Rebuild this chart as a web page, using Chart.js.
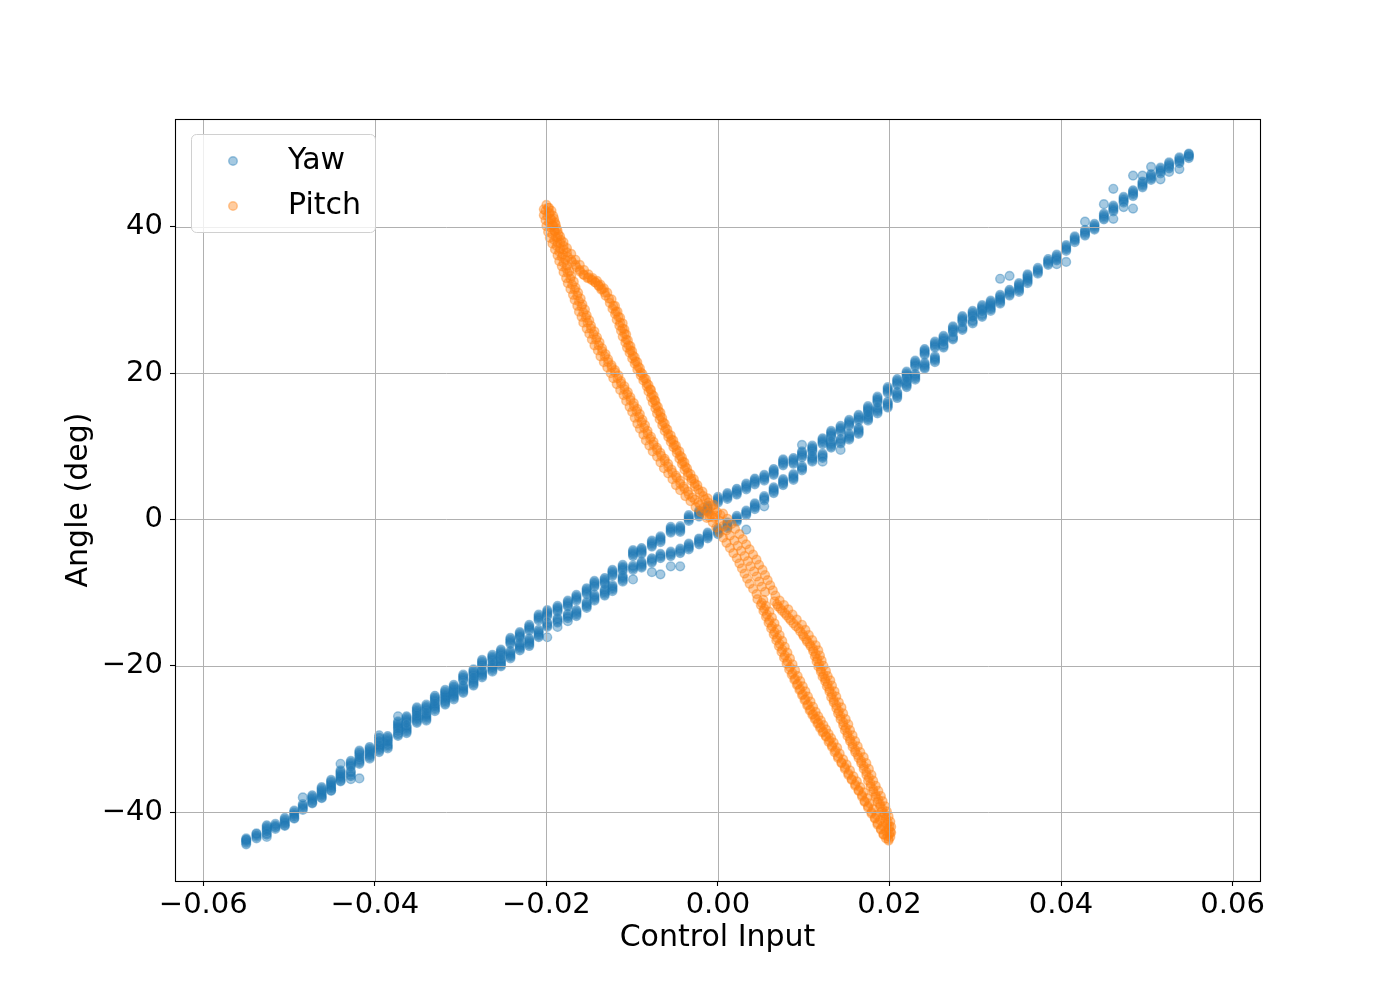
<!DOCTYPE html>
<html>
<head>
<meta charset="utf-8">
<title>Angle vs Control Input</title>
<script src="https://cdn.jsdelivr.net/npm/chart.js@4.4.1/dist/chart.umd.min.js"></script>
<style>
  html, body { margin: 0; padding: 0; background: #fff; }
  #wrap { width: 1400px; height: 990px; }
</style>
</head>
<body>
<div id="wrap"><canvas id="myChart" width="1400" height="990"></canvas></div>
<script>
const xTicks = [-0.06, -0.04, -0.02, 0.00, 0.02, 0.04, 0.06];
const yTicks = [-40, -20, 0, 20, 40];
const seriesNames = ['Yaw', 'Pitch'];

// yaw: control input steps, and the angles sampled at each step
const yawInput = [-0.0550, -0.0538, -0.0526, -0.0516, -0.0505, -0.0494, -0.0484, -0.0473, -0.0462, -0.0451,
  -0.0440, -0.0428, -0.0418, -0.0406, -0.0395, -0.0385, -0.0373, -0.0363, -0.0351, -0.0340,
  -0.0330, -0.0318, -0.0308, -0.0297, -0.0285, -0.0275, -0.0263, -0.0253, -0.0242, -0.0231,
  -0.0220, -0.0209, -0.0199, -0.0187, -0.0175, -0.0165, -0.0153, -0.0144, -0.0132, -0.0123,
  -0.0111, -0.0099, -0.0089, -0.0077, -0.0067, -0.0055, -0.0044, -0.0034, -0.0022, -0.0012,
  0.0000, 0.0011, 0.0022, 0.0033, 0.0043, 0.0054, 0.0065, 0.0076, 0.0088, 0.0098,
  0.0110, 0.0122, 0.0132, 0.0143, 0.0153, 0.0164, 0.0175, 0.0186, 0.0198, 0.0209,
  0.0220, 0.0230, 0.0241, 0.0253, 0.0263, 0.0274, 0.0285, 0.0297, 0.0308, 0.0318,
  0.0329, 0.0340, 0.0351, 0.0361, 0.0373, 0.0385, 0.0395, 0.0406, 0.0416, 0.0428,
  0.0439, 0.0450, 0.0461, 0.0473, 0.0484, 0.0495, 0.0505, 0.0516, 0.0526, 0.0538, 0.0549];

// first sweep
const yawAngle = [
  [-43.6, -44.0, -44.4, -43.8], [-42.9, -43.2, -43.6], [-41.8, -42.2, -42.6, -42.9, -43.4],
  [-41.6, -42.0, -42.3], [-40.8, -41.2, -41.6, -41.9], [-39.8, -40.2, -40.6, -40.9],
  [-38.0, -38.9, -39.3, -39.7], [-37.7, -38.1, -38.5, -38.8], [-36.6, -37.0, -37.4, -37.8, -38.1],
  [-35.6, -36.0, -36.4, -36.8, -37.1], [-33.4, -34.3, -34.7, -35.1, -35.5, -35.8], [-33.0, -33.4, -33.8, -34.4, -34.9, -35.5],
  [-31.6, -32.0, -32.5, -33.0, -33.4, -35.4], [-31.1, -31.5, -31.9, -32.3, -32.7], [-29.5, -30.0, -30.5, -31.0, -31.4, -31.8],
  [-29.6, -30.0, -30.4, -30.9, -31.3], [-26.9, -27.8, -28.2, -28.6, -29.2, -29.6], [-26.9, -27.3, -27.7, -28.4, -28.8, -29.2],
  [-25.7, -26.1, -26.5, -27.0, -27.4, -27.8], [-25.3, -25.7, -26.1, -26.7, -27.1, -27.5], [-24.1, -24.5, -24.9, -25.4, -25.8, -26.2],
  [-23.3, -23.7, -24.1, -24.5, -24.9, -25.3], [-22.6, -23.0, -23.4, -23.8, -24.2, -24.6], [-21.2, -21.6, -22.0, -22.9, -23.3, -23.7],
  [-20.5, -20.9, -21.3, -21.9, -22.3, -22.7], [-19.2, -19.6, -20.0, -20.8, -21.2, -21.6], [-18.5, -18.9, -19.3, -20.0, -20.4, -20.8],
  [-17.8, -18.2, -18.6, -19.3, -19.7, -20.1], [-16.2, -16.6, -17.0, -18.2, -18.6, -19.0], [-15.4, -15.8, -16.2, -17.1, -17.5, -17.9],
  [-14.4, -14.8, -15.2, -16.5, -16.9, -17.3], [-13.0, -13.4, -13.8, -15.3, -15.7, -16.1], [-12.4, -12.8, -13.2, -14.1, -14.5, -16.1],
  [-11.8, -12.2, -12.6, -13.5, -13.9, -14.7], [-11.1, -11.5, -11.9, -12.9, -13.3, -13.9], [-10.3, -10.7, -11.1, -12.4, -12.8, -13.2],
  [-9.4, -9.8, -10.2, -11.3, -11.7, -12.1], [-8.4, -8.8, -9.2, -10.3, -10.7, -11.1], [-8.0, -8.4, -8.8, -9.6, -10.0, -10.4],
  [-6.9, -7.3, -7.7, -9.0, -9.4, -9.8], [-6.2, -6.6, -7.0, -7.7, -8.1, -8.5], [-4.2, -4.6, -5.0, -6.3, -6.7, -8.2],
  [-3.9, -4.3, -4.7, -5.8, -6.2, -6.6], [-2.9, -3.3, -3.7, -5.3, -5.7, -7.2], [-2.3, -2.7, -3.1, -4.7, -5.1, -7.5],
  [-1.0, -1.4, -1.8, -4.4, -4.8, -6.4], [-0.9, -1.3, -1.7, -4.0, -4.4, -6.4], [0.6, 0.2, -0.2, -3.3, -3.7, -4.1],
  [1.2, 0.8, 0.4, -2.6, -3.0, -3.4], [1.9, 1.5, 1.1, -1.8, -2.2, -2.6],
  [3.1, 2.7, 2.3, -1.2, -1.6, -2.0],
  [3.6, 3.2, 2.8, -0.4, -0.8, -1.2], [4.2, 3.8, 3.4, 0.5, 0.1, -0.3], [4.9, 4.5, 4.1, 1.2, 0.8, -1.4],
  [5.6, 5.2, 4.8, 2.2, 1.8, 1.4], [6.1, 5.7, 5.3, 3.2, 2.8, 1.8], [6.9, 6.5, 6.1, 4.4, 4.0, 3.6],
  [8.2, 7.8, 7.4, 5.5, 5.1, 4.7], [8.4, 8.0, 7.6, 6.2, 5.8, 5.4], [9.3, 8.9, 8.5, 7.3, 6.9, 10.2],
  [10.1, 9.7, 9.3, 8.7, 8.3, 7.9], [11.1, 10.7, 10.3, 9.0, 8.6, 7.9], [12.1, 11.7, 11.3, 10.6, 10.2, 9.8],
  [12.8, 12.4, 12.0, 11.0, 10.6, 9.5], [13.6, 13.2, 12.8, 11.7, 11.3, 10.9], [14.3, 13.9, 13.5, 12.5, 12.1, 11.7],
  [15.5, 15.1, 14.7, 14.3, 13.9, 13.5], [16.8, 16.4, 16.0, 15.3, 14.9, 14.5], [18.1, 17.7, 17.3, 16.1, 15.7, 15.3],
  [19.2, 18.8, 18.4, 17.4, 17.0, 16.6], [20.2, 19.8, 19.4, 18.9, 18.5, 18.1], [21.7, 21.3, 20.9, 19.9, 19.5, 19.1],
  [23.3, 22.9, 22.5, 21.4, 21.0, 20.6], [24.3, 23.9, 23.5, 22.3, 21.9, 21.5], [25.1, 24.7, 24.3, 23.9, 23.5],
  [26.4, 26.0, 25.6, 25.0, 24.6], [27.8, 27.4, 27.0, 26.3, 25.9], [28.5, 28.1, 27.7, 27.2, 26.8],
  [29.3, 28.9, 28.5, 28.1, 27.7], [29.9, 29.5, 29.1, 28.9, 28.5], [30.7, 30.3, 29.9, 29.5, 32.9],
  [31.4, 31.0, 30.6, 33.3], [32.3, 31.9, 31.5, 31.1], [33.5, 33.1, 32.7, 32.3],
  [34.4, 34.0, 33.6], [35.6, 35.2, 34.8], [36.2, 35.8, 35.4, 34.9],
  [37.5, 37.1, 36.7, 35.2], [38.7, 38.3, 37.9], [39.6, 39.2, 38.8, 40.7],
  [40.4, 40.0, 39.6], [41.8, 41.4, 41.0, 43.1], [42.9, 42.5, 42.1, 45.2, 41.1],
  [44.1, 43.7, 43.3, 42.7], [45.0, 44.6, 44.2, 47.0, 42.5], [46.2, 45.8, 45.4, 47.0],
  [47.2, 46.8, 46.4, 48.2], [48.1, 47.7, 47.3, 46.5], [48.8, 48.4, 48.0, 47.5],
  [49.5, 49.1, 48.7, 47.9], [50.0, 49.7, 49.4]
];

// second sweep, same input steps
const yawAngleRepeat = [
  [-43.8, -44.2], [-43.0, -43.4], [-42.0, -42.4, -43.1], [-41.8, -42.1], [-41.0, -41.4, -41.8],
  [-40.0, -40.4, -40.8], [-39.1, -39.5], [-37.9, -38.3, -38.7], [-36.8, -37.2, -37.6, -38.0], [-35.8, -36.2, -36.6, -37.0],
  [-34.5, -34.9, -35.3, -35.7], [-33.2, -33.6, -34.6, -35.1], [-31.8, -32.2, -32.8, -33.2], [-31.3, -31.7, -32.1, -32.5], [-29.8, -30.3, -30.8, -31.2, -31.6],
  [-29.8, -30.2, -30.7, -31.1], [-27.6, -28.0, -28.4, -28.9, -29.4], [-27.1, -27.5, -28.2, -28.6, -29.0], [-25.9, -26.3, -26.8, -27.2, -27.6], [-25.5, -25.9, -26.5, -26.9, -27.3],
  [-24.3, -24.7, -25.2, -25.6, -26.0], [-23.5, -23.9, -24.3, -24.7, -25.1], [-22.8, -23.2, -23.6, -24.0, -24.4], [-21.4, -21.8, -22.7, -23.1, -23.5], [-20.7, -21.1, -21.7, -22.1, -22.5],
  [-19.4, -19.8, -20.6, -21.0, -21.4], [-18.7, -19.1, -19.8, -20.2, -20.6], [-18.0, -18.4, -19.1, -19.5, -19.9], [-16.4, -16.8, -18.0, -18.4, -18.8], [-15.6, -16.0, -16.9, -17.3, -17.7],
  [-14.6, -15.0, -16.3, -16.7, -17.1], [-13.2, -13.6, -15.1, -15.5, -15.9], [-12.6, -13.0, -14.3, -14.7], [-12.0, -12.4, -13.7, -14.1], [-11.3, -11.7, -13.1, -13.5],
  [-10.5, -10.9, -12.6, -13.0], [-9.6, -10.0, -11.5, -11.9], [-8.6, -9.0, -10.5, -10.9], [-8.2, -8.6, -9.8, -10.2], [-7.1, -7.5, -9.2, -9.6],
  [-6.4, -6.8, -7.9, -8.3], [-4.4, -4.8, -6.5, -6.9], [-4.1, -4.5, -6.0, -6.4], [-3.1, -3.5, -5.5, -5.9], [-2.5, -2.9, -4.9, -5.3],
  [-1.2, -1.6, -4.6, -5.0], [-1.1, -1.5, -4.2, -4.6], [0.4, 0.0, -3.5, -3.9], [1.0, 0.6, -2.8, -3.2], [1.7, 1.3, -2.0, -2.4],
  [2.9, 2.5, -1.4, -1.8],
  [3.4, 3.0, -0.6, -1.0], [4.0, 3.6, 0.3, -0.1], [4.7, 4.3, 1.0, 0.6], [5.4, 5.0, 2.0, 1.6], [5.9, 5.5, 3.0, 2.6],
  [6.7, 6.3, 4.2, 3.8], [8.0, 7.6, 5.3, 4.9], [8.2, 7.8, 6.0, 5.6], [9.1, 8.7, 7.1, 6.7], [9.9, 9.5, 8.5, 8.1],
  [10.9, 10.5, 8.8, 8.4], [11.9, 11.5, 10.4, 10.0], [12.6, 12.2, 10.8, 10.4], [13.4, 13.0, 11.5, 11.1], [14.1, 13.7, 12.3, 11.9],
  [15.3, 14.9, 14.1, 13.7], [16.6, 16.2, 15.1, 14.7], [17.9, 17.5, 15.9, 15.5], [19.0, 18.6, 17.2, 16.8], [20.0, 19.6, 18.7, 18.3],
  [21.5, 21.1, 19.7, 19.3], [23.1, 22.7, 21.2, 20.8], [24.1, 23.7, 22.1, 21.7], [24.9, 24.5, 23.7], [26.2, 25.8, 24.8],
  [27.6, 27.2, 26.1], [28.3, 27.9, 27.0], [29.1, 28.7, 27.9], [29.7, 29.3, 28.7], [30.5, 30.1, 29.7],
  [31.2, 30.8], [32.1, 31.7, 31.3], [33.3, 32.9, 32.5], [34.2, 33.8], [35.4, 35.0],
  [36.0, 35.6], [37.3, 36.9], [38.5, 38.1], [39.4, 39.0], [40.2, 39.8],
  [41.6, 41.2], [42.7, 42.3], [43.9, 43.5], [44.8, 44.4], [46.0, 45.6],
  [47.0, 46.6], [47.9, 47.5], [48.6, 48.2], [49.3, 48.9], [49.9, 49.6]
];

// pitch: [control input, angle] read along the loop (several passes per stretch)
const pitchTopLeft = [
  [-0.0200, 43.0], [-0.0201, 42.2], [-0.0199, 41.5], [-0.0197, 40.6], [-0.0195, 39.9], [-0.0193, 39.0], [-0.0191, 38.2],
  [-0.0188, 37.4], [-0.0185, 36.6], [-0.0182, 35.9], [-0.0180, 35.1], [-0.0177, 34.3], [-0.0175, 33.7], [-0.0172, 32.9],
  [-0.0170, 32.1], [-0.0167, 31.4], [-0.0164, 30.6], [-0.0162, 29.8], [-0.0159, 29.1], [-0.0157, 28.3], [-0.0154, 27.6],
  [-0.0152, 26.9], [-0.0148, 26.1], [-0.0145, 25.3], [-0.0142, 24.6], [-0.0139, 23.8], [-0.0135, 23.0], [-0.0132, 22.3],
  [-0.0128, 21.5], [-0.0124, 20.8], [-0.0120, 20.1], [-0.0117, 19.3], [-0.0113, 18.6], [-0.0109, 17.8], [-0.0106, 17.1],
  [-0.0102, 16.3], [-0.0098, 15.5], [-0.0095, 14.8], [-0.0092, 14.0], [-0.0089, 13.3], [-0.0086, 12.5], [-0.0082, 11.7],
  [-0.0079, 11.0], [-0.0075, 10.2], [-0.0071, 9.5], [-0.0066, 8.7], [-0.0062, 8.0], [-0.0058, 7.2], [-0.0053, 6.4],
  [-0.0048, 5.7], [-0.0044, 4.9], [-0.0039, 4.2], [-0.0034, 3.4], [-0.0027, 2.7], [-0.0021, 2.0], [-0.0015, 1.3], [-0.0008, 0.6],
  [-0.0197, 42.6], [-0.0197, 41.8], [-0.0195, 41.1], [-0.0193, 40.2], [-0.0191, 39.5], [-0.0189, 38.6], [-0.0187, 37.8],
  [-0.0184, 37.0], [-0.0181, 36.2], [-0.0178, 35.5], [-0.0176, 34.7], [-0.0173, 33.9], [-0.0171, 33.3], [-0.0168, 32.5],
  [-0.0166, 31.7], [-0.0163, 31.0], [-0.0160, 30.2], [-0.0158, 29.4], [-0.0155, 28.7], [-0.0153, 27.9], [-0.0150, 27.2],
  [-0.0148, 26.5], [-0.0144, 25.7], [-0.0141, 24.9], [-0.0138, 24.2], [-0.0135, 23.4], [-0.0131, 22.6], [-0.0128, 21.9],
  [-0.0124, 21.1], [-0.0120, 20.4], [-0.0116, 19.7], [-0.0113, 18.9], [-0.0109, 18.2], [-0.0105, 17.4], [-0.0102, 16.7],
  [-0.0098, 15.9], [-0.0094, 15.1], [-0.0091, 14.4], [-0.0088, 13.6], [-0.0085, 12.9], [-0.0082, 12.1], [-0.0078, 11.3],
  [-0.0075, 10.6], [-0.0071, 9.8], [-0.0067, 9.1], [-0.0062, 8.3], [-0.0058, 7.6], [-0.0054, 6.8], [-0.0049, 6.0],
  [-0.0044, 5.3], [-0.0040, 4.5], [-0.0035, 3.8], [-0.0030, 3.0], [-0.0023, 2.3], [-0.0017, 1.6], [-0.0011, 0.9], [-0.0004, 0.2],
  [-0.0203, 42.4], [-0.0203, 41.6], [-0.0201, 40.9], [-0.0200, 40.1], [-0.0198, 39.3], [-0.0196, 38.5], [-0.0193, 37.7],
  [-0.0190, 36.9], [-0.0187, 36.1], [-0.0185, 35.3], [-0.0182, 34.6], [-0.0180, 33.8], [-0.0177, 33.0], [-0.0175, 32.3],
  [-0.0172, 31.5], [-0.0169, 30.7], [-0.0167, 30.0], [-0.0164, 29.2], [-0.0162, 28.4], [-0.0159, 27.7], [-0.0157, 26.9],
  [-0.0153, 26.1], [-0.0150, 25.4], [-0.0147, 24.6], [-0.0144, 23.8], [-0.0140, 23.1], [-0.0137, 22.3], [-0.0133, 21.5],
  [-0.0129, 20.8], [-0.0125, 20.0], [-0.0122, 19.3], [-0.0118, 18.5], [-0.0114, 17.7], [-0.0110, 17.0], [-0.0107, 16.2],
  [-0.0103, 15.4], [-0.0100, 14.7], [-0.0097, 13.9], [-0.0094, 13.1], [-0.0091, 12.4], [-0.0087, 11.6], [-0.0084, 10.8],
  [-0.0080, 10.1], [-0.0076, 9.3], [-0.0071, 8.6], [-0.0067, 7.8], [-0.0063, 7.0], [-0.0058, 6.3], [-0.0053, 5.5],
  [-0.0049, 4.7], [-0.0044, 4.0], [-0.0038, 3.2], [-0.0032, 2.5], [-0.0026, 1.7], [-0.0020, 1.0], [-0.0013, 0.2]
];
const pitchTopRight = [
  [-0.0198, 42.6], [-0.0196, 41.9], [-0.0194, 41.0], [-0.0192, 40.2], [-0.0190, 39.4], [-0.0187, 38.6], [-0.0184, 37.8],
  [-0.0180, 36.9], [-0.0175, 35.9], [-0.0170, 35.2], [-0.0165, 34.5], [-0.0161, 33.9], [-0.0156, 33.4], [-0.0151, 33.1],
  [-0.0147, 32.8], [-0.0143, 32.4], [-0.0139, 31.9], [-0.0136, 31.4], [-0.0131, 30.6], [-0.0126, 29.6], [-0.0123, 28.8],
  [-0.0120, 28.1], [-0.0118, 27.3], [-0.0115, 26.5], [-0.0113, 25.8], [-0.0111, 25.0], [-0.0108, 24.2], [-0.0106, 23.5],
  [-0.0103, 22.8], [-0.0100, 22.0], [-0.0097, 21.3], [-0.0094, 20.5], [-0.0090, 19.7], [-0.0087, 19.0], [-0.0083, 18.2],
  [-0.0081, 17.5], [-0.0078, 16.7], [-0.0076, 16.0], [-0.0073, 15.2], [-0.0071, 14.5], [-0.0068, 13.7], [-0.0065, 12.9],
  [-0.0062, 12.1], [-0.0058, 11.3], [-0.0055, 10.6], [-0.0052, 9.9], [-0.0048, 9.1], [-0.0045, 8.3], [-0.0042, 7.6],
  [-0.0039, 6.8], [-0.0035, 6.0], [-0.0031, 5.3], [-0.0027, 4.5], [-0.0021, 3.6], [-0.0015, 2.7], [-0.0008, 1.8], [-0.0001, 1.0],
  [-0.0194, 42.2], [-0.0192, 41.5], [-0.0190, 40.6], [-0.0188, 39.8], [-0.0186, 39.0], [-0.0183, 38.2], [-0.0180, 37.4],
  [-0.0176, 36.5], [-0.0171, 35.5], [-0.0166, 34.8], [-0.0161, 34.1], [-0.0157, 33.5], [-0.0152, 33.0], [-0.0147, 32.7],
  [-0.0143, 32.4], [-0.0139, 32.0], [-0.0135, 31.5], [-0.0132, 31.0], [-0.0127, 30.2], [-0.0122, 29.2], [-0.0119, 28.4],
  [-0.0116, 27.7], [-0.0114, 26.9], [-0.0111, 26.1], [-0.0109, 25.4], [-0.0107, 24.6], [-0.0104, 23.8], [-0.0102, 23.1],
  [-0.0099, 22.4], [-0.0096, 21.6], [-0.0093, 20.9], [-0.0090, 20.1], [-0.0086, 19.3], [-0.0083, 18.6], [-0.0079, 17.8],
  [-0.0077, 17.1], [-0.0074, 16.3], [-0.0072, 15.6], [-0.0069, 14.8], [-0.0067, 14.1], [-0.0064, 13.3], [-0.0061, 12.5],
  [-0.0058, 11.7], [-0.0054, 10.9], [-0.0051, 10.2], [-0.0048, 9.5], [-0.0044, 8.7], [-0.0041, 7.9], [-0.0038, 7.2],
  [-0.0035, 6.4], [-0.0031, 5.6], [-0.0027, 4.9], [-0.0023, 4.1], [-0.0017, 3.2], [-0.0011, 2.3], [-0.0004, 1.4], [0.0003, 0.6],
  [-0.0191, 41.1], [-0.0189, 40.3], [-0.0187, 39.5], [-0.0184, 38.7], [-0.0180, 37.9], [-0.0176, 37.1], [-0.0171, 36.3],
  [-0.0166, 35.5], [-0.0161, 34.8], [-0.0156, 34.1], [-0.0151, 33.5], [-0.0146, 33.0], [-0.0141, 32.6], [-0.0137, 32.1],
  [-0.0133, 31.6], [-0.0129, 31.0], [-0.0124, 30.1], [-0.0120, 29.2], [-0.0117, 28.4], [-0.0114, 27.6], [-0.0111, 26.8],
  [-0.0109, 26.0], [-0.0107, 25.3], [-0.0105, 24.5], [-0.0102, 23.7], [-0.0100, 23.0], [-0.0097, 22.2], [-0.0094, 21.5],
  [-0.0091, 20.7], [-0.0088, 19.9], [-0.0084, 19.2], [-0.0081, 18.4], [-0.0078, 17.7], [-0.0075, 16.9], [-0.0073, 16.2],
  [-0.0070, 15.4], [-0.0067, 14.6], [-0.0065, 13.9], [-0.0062, 13.1], [-0.0059, 12.3], [-0.0055, 11.5], [-0.0052, 10.8],
  [-0.0049, 10.1], [-0.0045, 9.3], [-0.0042, 8.5], [-0.0039, 7.8], [-0.0036, 7.0], [-0.0032, 6.2], [-0.0028, 5.5],
  [-0.0024, 4.7], [-0.0018, 3.8], [-0.0012, 2.9], [-0.0005, 2.0]
];
const pitchCentre = [
  [-0.0010, 0.3], [-0.0006, -0.4], [-0.0002, -1.1], [0.0002, -1.8], [0.0006, -2.5], [0.0010, -3.2], [0.0014, -3.9],
  [0.0018, -4.6], [0.0022, -5.3], [0.0025, -6.0], [0.0028, -6.7], [0.0031, -7.4], [0.0034, -8.1], [0.0037, -8.8],
  [0.0041, -9.5], [0.0045, -10.2],
  [0.0006, 0.8], [0.0011, 0.1], [0.0016, -0.6], [0.0020, -1.3], [0.0025, -2.0], [0.0029, -2.7], [0.0033, -3.4],
  [0.0037, -4.1], [0.0041, -4.8], [0.0045, -5.5], [0.0048, -6.2], [0.0052, -6.9], [0.0055, -7.6], [0.0058, -8.3],
  [0.0061, -9.0], [0.0064, -9.7], [0.0067, -10.4],
  [0.0002, -0.2], [0.0010, -1.5], [0.0019, -2.9], [0.0027, -4.3], [0.0035, -5.7], [0.0042, -7.1], [0.0048, -8.5], [0.0055, -9.9],
  [-0.0003, 0.5], [0.0006, -0.9], [0.0014, -2.2], [0.0023, -3.6], [0.0031, -5.0], [0.0038, -6.4], [0.0045, -7.8], [0.0051, -9.2]
];
const pitchBottomLeft = [
  [0.0053, -11.0], [0.0056, -11.8], [0.0060, -12.6], [0.0063, -13.4], [0.0066, -14.2], [0.0069, -15.0], [0.0072, -15.8],
  [0.0075, -16.6], [0.0078, -17.4], [0.0081, -18.2], [0.0084, -19.0], [0.0087, -19.8], [0.0090, -20.6], [0.0093, -21.4],
  [0.0096, -22.1], [0.0099, -22.8], [0.0102, -23.5], [0.0105, -24.2], [0.0108, -24.9], [0.0111, -25.6], [0.0114, -26.3],
  [0.0117, -26.9], [0.0120, -27.5], [0.0123, -28.1], [0.0126, -28.7], [0.0129, -29.3], [0.0132, -29.9], [0.0135, -30.5],
  [0.0139, -31.2], [0.0142, -32.0], [0.0146, -32.8], [0.0150, -33.5], [0.0154, -34.3], [0.0158, -35.1], [0.0162, -35.8],
  [0.0166, -36.6], [0.0170, -37.3], [0.0174, -38.1], [0.0177, -38.8], [0.0181, -39.6], [0.0185, -40.4], [0.0189, -41.1],
  [0.0192, -41.9], [0.0196, -42.6], [0.0198, -43.3], [0.0199, -43.9],
  [0.0051, -11.4], [0.0054, -12.2], [0.0057, -13.0], [0.0060, -13.8], [0.0063, -14.6], [0.0066, -15.4], [0.0069, -16.2],
  [0.0072, -17.0], [0.0075, -17.8], [0.0078, -18.6], [0.0081, -19.4], [0.0084, -20.2], [0.0087, -21.0], [0.0090, -21.8],
  [0.0093, -22.5], [0.0096, -23.2], [0.0099, -23.9], [0.0102, -24.6], [0.0105, -25.3], [0.0108, -26.0], [0.0111, -26.6],
  [0.0114, -27.2], [0.0117, -27.8], [0.0120, -28.4], [0.0123, -29.0], [0.0126, -29.6], [0.0130, -30.2], [0.0133, -30.9],
  [0.0137, -31.6], [0.0140, -32.4], [0.0144, -33.2], [0.0148, -33.9], [0.0152, -34.7], [0.0156, -35.5], [0.0160, -36.2],
  [0.0164, -37.0], [0.0168, -37.7], [0.0171, -38.5], [0.0175, -39.2], [0.0179, -40.0], [0.0183, -40.8], [0.0186, -41.5],
  [0.0190, -42.3], [0.0193, -43.0], [0.0196, -43.6],
  [0.0046, -10.9], [0.0050, -11.7], [0.0053, -12.5], [0.0056, -13.3], [0.0059, -14.1], [0.0062, -14.9], [0.0065, -15.7],
  [0.0068, -16.5], [0.0071, -17.3], [0.0074, -18.1], [0.0077, -18.9], [0.0080, -19.7], [0.0083, -20.5], [0.0086, -21.2],
  [0.0089, -21.9], [0.0092, -22.6], [0.0095, -23.3], [0.0098, -24.0], [0.0101, -24.7], [0.0104, -25.4], [0.0107, -26.1],
  [0.0110, -26.7], [0.0113, -27.3], [0.0116, -27.9], [0.0119, -28.5], [0.0122, -29.1], [0.0126, -29.7], [0.0129, -30.4],
  [0.0133, -31.1], [0.0136, -31.8], [0.0140, -32.6], [0.0144, -33.3], [0.0148, -34.1], [0.0152, -34.9], [0.0156, -35.6],
  [0.0160, -36.4], [0.0164, -37.1], [0.0168, -37.9], [0.0171, -38.6], [0.0175, -39.4], [0.0179, -40.2], [0.0183, -40.9],
  [0.0186, -41.7], [0.0190, -42.4], [0.0193, -43.1]
];
const pitchBottomRight = [
  [0.0066, -11.2], [0.0070, -11.9], [0.0075, -12.5], [0.0080, -13.1], [0.0085, -13.8], [0.0091, -14.6], [0.0096, -15.3],
  [0.0100, -16.0], [0.0104, -16.7], [0.0108, -17.3], [0.0111, -18.0], [0.0113, -18.7], [0.0115, -19.4], [0.0117, -20.1],
  [0.0120, -20.8], [0.0122, -21.5], [0.0125, -22.1], [0.0127, -22.8], [0.0130, -23.5], [0.0132, -24.3], [0.0135, -25.0],
  [0.0138, -25.8], [0.0140, -26.5], [0.0143, -27.3], [0.0146, -28.1], [0.0148, -28.8], [0.0151, -29.6], [0.0154, -30.3],
  [0.0157, -31.1], [0.0160, -31.8], [0.0164, -32.6], [0.0167, -33.3], [0.0170, -34.1], [0.0173, -34.9], [0.0175, -35.7],
  [0.0178, -36.5], [0.0181, -37.2], [0.0184, -37.9], [0.0186, -38.6], [0.0189, -39.2], [0.0191, -39.9], [0.0193, -40.5],
  [0.0195, -41.1], [0.0197, -41.7], [0.0199, -42.3], [0.0200, -43.0], [0.0199, -43.7],
  [0.0069, -11.6], [0.0073, -12.2], [0.0078, -12.8], [0.0083, -13.5], [0.0088, -14.2], [0.0094, -14.9], [0.0099, -15.7],
  [0.0103, -16.4], [0.0107, -17.0], [0.0111, -17.7], [0.0114, -18.4], [0.0116, -19.1], [0.0118, -19.8], [0.0120, -20.5],
  [0.0123, -21.2], [0.0125, -21.8], [0.0128, -22.5], [0.0130, -23.2], [0.0133, -23.9], [0.0135, -24.7], [0.0138, -25.4],
  [0.0141, -26.2], [0.0143, -26.9], [0.0146, -27.7], [0.0149, -28.5], [0.0151, -29.2], [0.0154, -30.0], [0.0157, -30.7],
  [0.0160, -31.5], [0.0163, -32.2], [0.0167, -33.0], [0.0170, -33.7], [0.0173, -34.5], [0.0176, -35.3], [0.0178, -36.1],
  [0.0181, -36.9], [0.0184, -37.6], [0.0187, -38.3], [0.0189, -38.9], [0.0192, -39.6], [0.0194, -40.2], [0.0196, -40.8],
  [0.0198, -41.4], [0.0200, -42.0], [0.0201, -42.7], [0.0201, -43.4],
  [0.0072, -11.1], [0.0077, -11.7], [0.0082, -12.3], [0.0087, -13.0], [0.0092, -13.7], [0.0098, -14.4], [0.0102, -15.1],
  [0.0106, -15.8], [0.0110, -16.5], [0.0114, -17.2], [0.0117, -17.9], [0.0119, -18.6], [0.0121, -19.3], [0.0123, -20.0],
  [0.0126, -20.7], [0.0128, -21.4], [0.0131, -22.0], [0.0133, -22.7], [0.0136, -23.5], [0.0138, -24.2], [0.0141, -25.0],
  [0.0144, -25.7], [0.0146, -26.5], [0.0149, -27.3], [0.0152, -28.0], [0.0154, -28.8], [0.0157, -29.5], [0.0160, -30.3],
  [0.0163, -31.0], [0.0166, -31.8], [0.0170, -32.5], [0.0173, -33.3], [0.0176, -34.1], [0.0179, -34.9], [0.0181, -35.7],
  [0.0184, -36.4], [0.0187, -37.1], [0.0190, -37.8], [0.0192, -38.5], [0.0195, -39.2], [0.0197, -39.9], [0.0199, -40.6],
  [0.0201, -41.3], [0.0202, -42.0], [0.0202, -42.8]
];

const yawColor = 'rgba(31, 119, 180, 0.4)';
const pitchColor = 'rgba(255, 127, 14, 0.4)';

const yawPoints = [];
yawInput.forEach((x, i) => {
  yawAngle[i].concat(yawAngleRepeat[i] || []).forEach(y => yawPoints.push({x: x, y: y}));
});
const pitchPoints = [].concat(pitchTopLeft, pitchTopRight, pitchCentre, pitchBottomLeft, pitchBottomRight)
  .map(p => ({x: p[0], y: p[1]}));

const minus = v => (v < 0 ? '\u2212' : '');

// grid on top of the points and a black frame, like matplotlib
const gridAndFrame = {
  id: 'gridAndFrame',
  afterDatasetsDraw(chart) {
    const {ctx, chartArea: a, scales} = chart;
    ctx.save();
    ctx.strokeStyle = '#b0b0b0';
    ctx.lineWidth = 1;
    ctx.beginPath();
    xTicks.forEach(v => {
      const px = Math.round(scales.x.getPixelForValue(v)) + 0.5;
      ctx.moveTo(px, a.top);
      ctx.lineTo(px, a.bottom);
    });
    yTicks.forEach(v => {
      const py = Math.round(scales.y.getPixelForValue(v)) + 0.5;
      ctx.moveTo(a.left, py);
      ctx.lineTo(a.right, py);
    });
    ctx.stroke();
    ctx.strokeStyle = '#000';
    ctx.lineWidth = 1.1;
    ctx.strokeRect(a.left + 0.5, a.top + 0.5, a.right - a.left, a.bottom - a.top);
    ctx.restore();
  }
};

const legendBox = {
  id: 'legendBox',
  afterDraw(chart) {
    const ctx = chart.ctx;
    ctx.save();
    ctx.beginPath();
    ctx.roundRect(191.5, 134.5, 184, 98, 5);
    ctx.fillStyle = 'rgba(255,255,255,0.8)';
    ctx.fill();
    ctx.strokeStyle = '#d0d0d0';
    ctx.lineWidth = 1;
    ctx.stroke();
    ctx.font = '30px "DejaVu Sans"';
    ctx.textBaseline = 'alphabetic';
    ctx.textAlign = 'left';
    chart.data.datasets.forEach((ds, i) => {
      const cy = 161 + i * 45;
      ctx.beginPath();
      ctx.arc(233, cy, 4.3, 0, Math.PI * 2);
      ctx.fillStyle = ds.backgroundColor;
      ctx.fill();
      ctx.lineWidth = 1.4;
      ctx.strokeStyle = ds.borderColor;
      ctx.stroke();
      ctx.fillStyle = '#000';
      ctx.fillText(ds.label, 288, cy + 8);
    });
    ctx.restore();
  }
};

new Chart(document.getElementById('myChart'), {
  type: 'scatter',
  data: {
    datasets: [
      {label: seriesNames[0], data: yawPoints, backgroundColor: yawColor, borderColor: yawColor,
        pointRadius: 4.4, borderWidth: 1.4, order: 1},
      {label: seriesNames[1], data: pitchPoints, backgroundColor: pitchColor, borderColor: pitchColor,
        pointRadius: 4.4, borderWidth: 1.4, order: 0}
    ]
  },
  options: {
    responsive: false,
    animation: false,
    events: [],
    layout: {padding: {left: 0, top: 119, right: 140, bottom: 0}},
    plugins: {legend: {display: false}, tooltip: {enabled: false}},
    scales: {
      x: {
        type: 'linear', min: -0.0633, max: 0.0632,
        afterBuildTicks: s => { s.ticks = xTicks.map(v => ({value: v})); },
        afterFit: s => { s.height = 109; },
        grid: {drawOnChartArea: false, tickLength: 5, tickColor: '#000', tickWidth: 1.1},
        border: {display: false},
        ticks: {
          autoSkip: false, maxRotation: 0, padding: 5, color: '#000',
          font: {family: 'DejaVu Sans', size: 29, lineHeight: 1},
          callback: v => minus(v) + Math.abs(v).toFixed(2)
        },
        title: {display: true, text: 'Control Input', color: '#000',
          font: {family: 'DejaVu Sans', size: 30, lineHeight: 1}, padding: {top: 0, bottom: 37}}
      },
      y: {
        type: 'linear', min: -49.42, max: 54.74,
        afterBuildTicks: s => { s.ticks = yTicks.map(v => ({value: v})); },
        afterFit: s => { s.width = 175; },
        grid: {drawOnChartArea: false, tickLength: 5, tickColor: '#000', tickWidth: 1.1},
        border: {display: false},
        ticks: {
          autoSkip: false, padding: 7, color: '#000',
          font: {family: 'DejaVu Sans', size: 29, lineHeight: 1},
          callback: v => minus(v) + Math.abs(v)
        },
        title: {display: true, text: 'Angle (deg)', color: '#000',
          font: {family: 'DejaVu Sans', size: 30, lineHeight: 1}, padding: {top: 64, bottom: 0}}
      }
    }
  },
  plugins: [gridAndFrame, legendBox]
});
</script>
</body>
</html>
